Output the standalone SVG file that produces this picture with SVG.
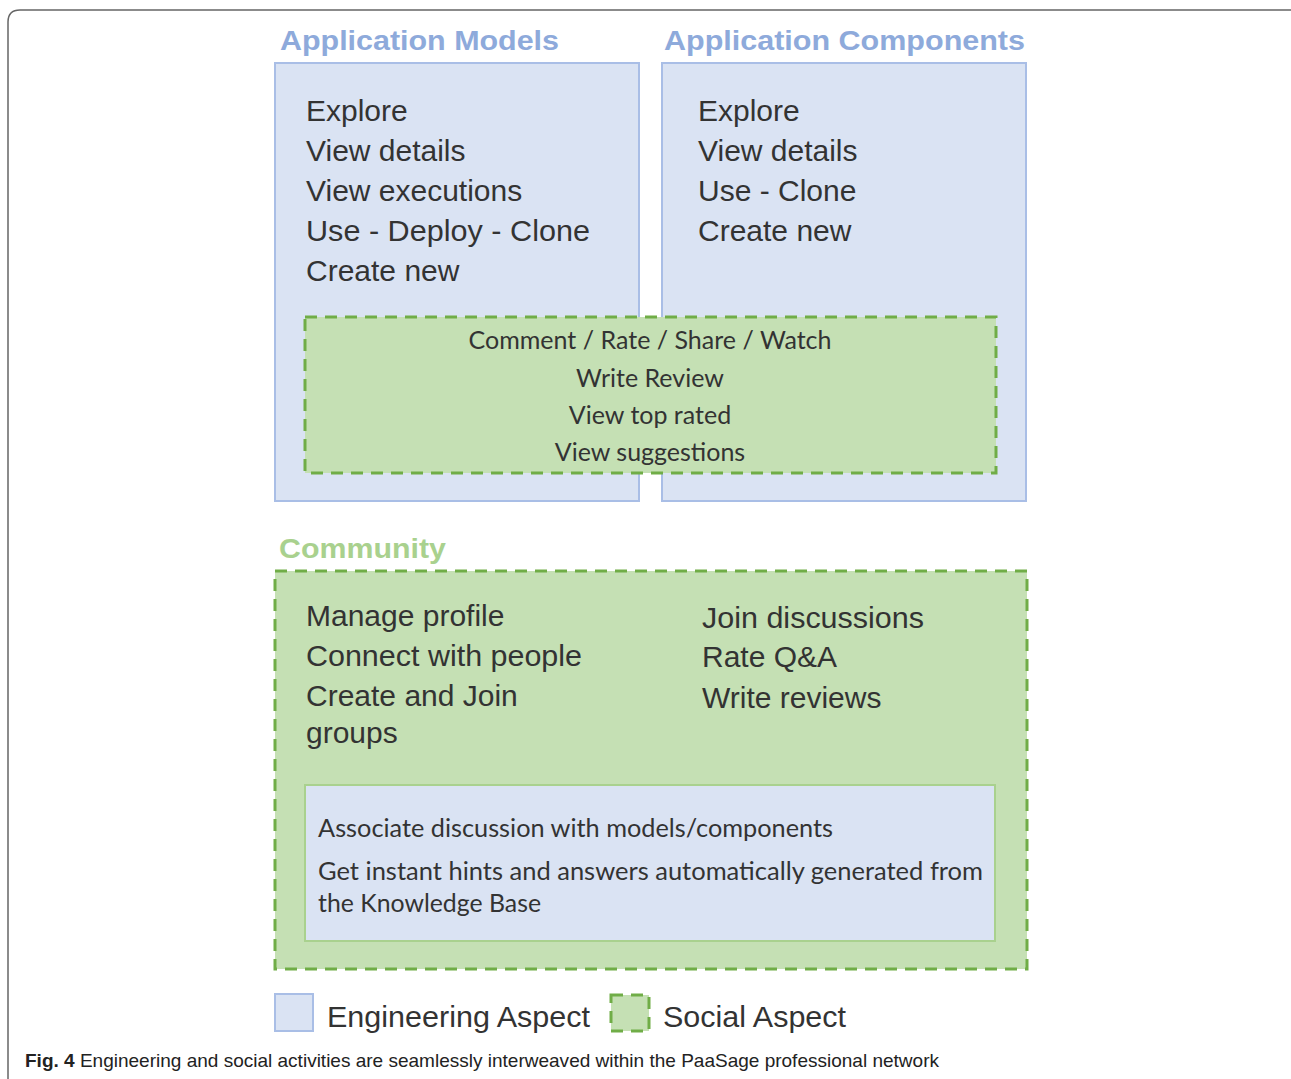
<svg xmlns="http://www.w3.org/2000/svg" width="1291" height="1079" viewBox="0 0 1291 1079">
<style>
.eng{fill:#dae3f3;stroke:#a9bee6;stroke-width:2}
.soc{fill:#c5e0b4;stroke:#70ad47;stroke-width:3;stroke-dasharray:12 8}
.title{font-family:"Liberation Sans",Arial,sans-serif;font-weight:bold;font-size:28px}
.tb{fill:#8eaadb}
.tg{fill:#a9d18e}
.big{font-family:"Liberation Sans",Arial,sans-serif;font-size:30px;fill:#333}
.cal{font-family:Lato,"Open Sans",sans-serif;font-size:25px;fill:#333}
.cap{font-family:"Liberation Sans",Arial,sans-serif;font-size:19px;fill:#222}
</style>
<rect x="0" y="0" width="1291" height="1079" fill="#fff"/>
<path d="M8,1079 V22 Q8,10 20,10 H1291" fill="none" stroke="#666" stroke-width="1.5"/>
<g id="app-models">
<rect class="eng" x="275" y="63" width="364" height="438"/>
<text class="title tb" x="280" y="50" textLength="279" lengthAdjust="spacingAndGlyphs">Application Models</text>
<text class="big" x="306" y="121">Explore</text>
<text class="big" x="306" y="161">View details</text>
<text class="big" x="306" y="201">View executions</text>
<text class="big" x="306" y="241" textLength="284" lengthAdjust="spacingAndGlyphs">Use - Deploy - Clone</text>
<text class="big" x="306" y="281">Create new</text>
</g>
<g id="app-components">
<rect class="eng" x="662" y="63" width="364" height="438"/>
<text class="title tb" x="664" y="50" textLength="361" lengthAdjust="spacingAndGlyphs">Application Components</text>
<text class="big" x="698" y="121">Explore</text>
<text class="big" x="698" y="161">View details</text>
<text class="big" x="698" y="201">Use - Clone</text>
<text class="big" x="698" y="241">Create new</text>
</g>
<g id="social-shared">
<rect class="soc" x="305" y="317" width="691" height="156"/>
<text class="cal" x="650" y="349" text-anchor="middle" textLength="363" lengthAdjust="spacingAndGlyphs">Comment / Rate / Share / Watch</text>
<text class="cal" x="650" y="387" text-anchor="middle">Write Review</text>
<text class="cal" x="650" y="424" text-anchor="middle">View top rated</text>
<text class="cal" x="650" y="461" text-anchor="middle">View suggestions</text>
</g>
<g id="community">
<rect class="soc" x="275" y="571" width="752" height="398"/>
<text class="title tg" x="279" y="558" textLength="167" lengthAdjust="spacingAndGlyphs">Community</text>
<text class="big" x="306" y="626">Manage profile</text>
<text class="big" x="306" y="666" textLength="276" lengthAdjust="spacingAndGlyphs">Connect with people</text>
<text class="big" x="306" y="706">Create and Join</text>
<text class="big" x="306" y="743">groups</text>
<text class="big" x="702" y="628" textLength="222" lengthAdjust="spacingAndGlyphs">Join discussions</text>
<text class="big" x="702" y="667">Rate Q&amp;A</text>
<text class="big" x="702" y="708">Write reviews</text>
</g>
<g id="community-engineering">
<rect x="305" y="785" width="690" height="156" fill="#dae3f3" stroke="#a9d18e" stroke-width="2"/>
<text class="cal" x="318" y="837" textLength="515" lengthAdjust="spacingAndGlyphs">Associate discussion with models/components</text>
<text class="cal" x="318" y="880" textLength="665" lengthAdjust="spacingAndGlyphs">Get instant hints and answers automatically generated from</text>
<text class="cal" x="318" y="912" textLength="223" lengthAdjust="spacingAndGlyphs">the Knowledge Base</text>
</g>
<g id="legend">
<rect class="eng" x="275" y="994" width="38" height="37"/>
<text class="big" x="327" y="1027" textLength="263" lengthAdjust="spacingAndGlyphs">Engineering Aspect</text>
<rect class="soc" x="611" y="995" width="38" height="36" stroke-dasharray="8 5"/>
<text class="big" x="663" y="1027" textLength="183" lengthAdjust="spacingAndGlyphs">Social Aspect</text>
</g>
<g id="connectors"></g>
<text class="cap" x="25" y="1067" textLength="914" lengthAdjust="spacingAndGlyphs"><tspan font-weight="bold">Fig. 4</tspan> Engineering and social activities are seamlessly interweaved within the PaaSage professional network</text>
</svg>
